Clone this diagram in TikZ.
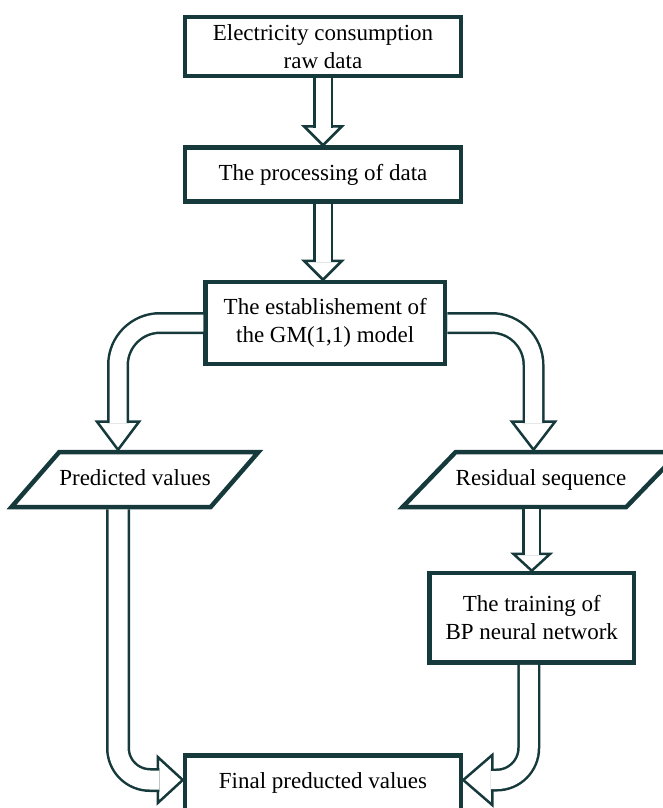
\documentclass[tikz,border=0pt]{standalone}
\usepackage{fontspec}
\setmainfont{Liberation Serif}
\usepackage{tikz}
\usetikzlibrary{shapes.geometric,calc}
\definecolor{dteal}{RGB}{22,58,60}

\begin{document}
\begin{tikzpicture}[x=1pt,y=-1pt,line join=miter]
        \tikzstyle{box}=[rectangle,draw=dteal,line width=4.5pt,align=center,inner sep=0pt,font=\fontsize{23}{28}\selectfont]
        \tikzstyle{data}=[trapezium,trapezium stretches body,draw=dteal,line width=4.5pt,inner xsep=0pt,inner ysep=17pt,text height=16pt,text depth=5pt,font=\fontsize{23}{28}\selectfont]
        \tikzstyle{shaft}=[draw=dteal,double=white,line width=2.5pt]
        \tikzstyle{head}=[draw=dteal,fill=white,line width=2.5pt]
        \useasboundingbox (0,0) rectangle (663,808);
        \clip (0,0) rectangle (663,808);
        \node[box,minimum width=276pt,minimum height=59pt] (raw) at (323,46.5) {Electricity consumption\\raw data};
        \node[box,minimum width=276pt,minimum height=54pt] (proc) at (323,174.5) {The processing of data};
        \node[box,minimum width=239.5pt,minimum height=82pt] (gm) at (325.25,323) {The establishement of\\the GM(1,1) model};
        \node[data,trapezium left angle=49,trapezium right angle=131,minimum width=242pt] (pred) at (135,479.5) {Predicted values};
        \node[data,trapezium left angle=46,trapezium right angle=134,minimum width=264pt] (res) at (541,479.5) {Residual sequence};
        \node[box,minimum width=204.5pt,minimum height=89.5pt] (bp) at (531.75,617.75) {The training of\\BP neural network};
        \node[box,minimum width=276pt,minimum height=55pt] (fin) at (323,783) {Final preducted values};

        \coordinate (t1) at (proc.north);
        \draw[head] ($(t1)+(-19,-19)$) -- (t1) -- ($(t1)+(19,-19)$) -- cycle;
        \draw[shaft,double distance=15pt] (raw.south) -- ($(t1)+(0,-17.5)$);

        \coordinate (t2) at (proc.south |- gm.north);
        \draw[head] ($(t2)+(-19,-19)$) -- (t2) -- ($(t2)+(19,-19)$) -- cycle;
        \draw[shaft,double distance=15pt] (proc.south) -- ($(t2)+(0,-17.5)$);

        \coordinate (t3) at ($(pred.north)+(-17,0)$);
        \draw[head] ($(t3)+(-21,-28)$) -- (t3) -- ($(t3)+(21,-28)$) -- cycle;
        \draw[shaft,double distance=17pt,rounded corners=42pt] (gm.west) -| ($(t3)+(0,-26.5)$);

        \coordinate (t4) at ($(res.north)+(-7.5,0)$);
        \draw[head] ($(t4)+(-21.5,-28)$) -- (t4) -- ($(t4)+(21.5,-28)$) -- cycle;
        \draw[shaft,double distance=17pt,rounded corners=42pt] (gm.east) -| ($(t4)+(0,-26.5)$);

        \coordinate (t5) at (bp.north);
        \draw[head] ($(t5)+(-18.5,-17)$) -- (t5) -- ($(t5)+(18.5,-17)$) -- cycle;
        \draw[shaft,double distance=14pt] (t5 |- res.south) -- ($(t5)+(0,-15.5)$);

        \coordinate (t6) at ($(fin.west)+(0,-3)$);
        \draw[head] ($(t6)+(-25,-23)$) -- (t6) -- ($(t6)+(-25,23)$) -- cycle;
        \draw[shaft,double distance=19pt,rounded corners=32pt] ($(pred.south)+(-17,0)$) |- ($(t6)+(-23.5,0)$);

        \coordinate (t7) at ($(fin.east)+(0,-3)$);
        \draw[head] ($(t7)+(29,-25)$) -- (t7) -- ($(t7)+(29,25)$) -- cycle;
        \draw[shaft,double distance=18pt,rounded corners=32pt] ($(bp.south)+(-3,0)$) |- ($(t7)+(27.5,0)$);
\end{tikzpicture}
\end{document}
